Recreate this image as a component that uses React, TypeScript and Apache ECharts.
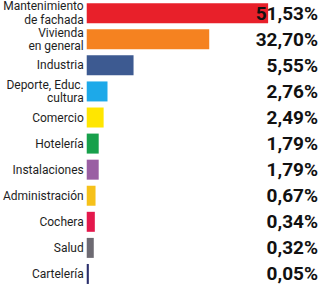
import React, { useEffect, useRef } from "react";
import * as echarts from "echarts";

// Categories (top to bottom)
const categories = [
  "Mantenimiento\nde fachada",
  "Vivienda\nen general",
  "Industria",
  "Deporte, Educ.\ncultura",
  "Comercio",
  "Hotelería",
  "Instalaciones",
  "Administración",
  "Cochera",
  "Salud",
  "Cartelería",
];

// Shares shown as labels (percent)
const shares = [51.53, 32.7, 5.55, 2.76, 2.49, 1.79, 1.79, 0.67, 0.34, 0.32, 0.05];

// Bar lengths as drawn in the source infographic (not to scale with the shares),
// read from the picture in units where the first bar equals its share
const barLengths = [51.53, 34.8, 13.3, 5.9, 4.8, 3.4, 3.4, 2.5, 2.3, 2.0, 0.6];

const barColors = [
  "#E8202A",
  "#F58220",
  "#3D5A91",
  "#1DA9E9",
  "#FFE600",
  "#17A04B",
  "#9A5FA3",
  "#F6C11A",
  "#E4184C",
  "#6D6A72",
  "#2A2F6C",
];

const fmt = (v: number) => v.toFixed(2).replace(".", ",") + "%";

export default function App() {
  const ref = useRef<HTMLDivElement>(null);
  useEffect(() => {
    if (!ref.current) return;
    const chart = echarts.init(ref.current, undefined, { renderer: "svg" });
    chart.setOption({
      animation: false,
      backgroundColor: "#ffffff",
      grid: { left: 86, right: 3, top: -3, bottom: -3, containLabel: false },
      xAxis: {
        type: "value",
        min: 0,
        max: 65.7,
        show: false,
      },
      yAxis: [
        {
          type: "category",
          data: categories,
          inverse: true,
          position: "left",
          axisLine: { show: false },
          axisTick: { show: false },
          splitLine: { show: false },
          axisLabel: {
            interval: 0,
            showMinLabel: true,
            showMaxLabel: true,
            margin: 3,
            color: "#1e1e1e",
            fontSize: 12,
            lineHeight: 13.5,
            fontFamily: "Roboto",
            align: "right",
          },
          z: 3,
        },
        {
          type: "category",
          data: shares.map(fmt),
          inverse: true,
          position: "right",
          axisLine: { show: false },
          axisTick: { show: false },
          splitLine: { show: false },
          axisLabel: {
            interval: 0,
            showMinLabel: true,
            showMaxLabel: true,
            margin: 0,
            align: "right",
            color: "#111111",
            fontSize: 19,
            fontWeight: "bold",
            fontFamily: "Roboto",
          },
          z: 3,
        },
      ],
      series: [
        {
          type: "bar",
          yAxisIndex: 0,
          data: barLengths.map((v, i) => ({
            value: v,
            itemStyle: { color: barColors[i] },
          })),
          barWidth: 20,
          z: 2,
        },
      ],
    });
    return () => chart.dispose();
  }, []);
  return (
    <div
      ref={ref}
      style={{ position: "fixed", left: 0, top: 0, width: 321, height: 287 }}
    />
  );
}
